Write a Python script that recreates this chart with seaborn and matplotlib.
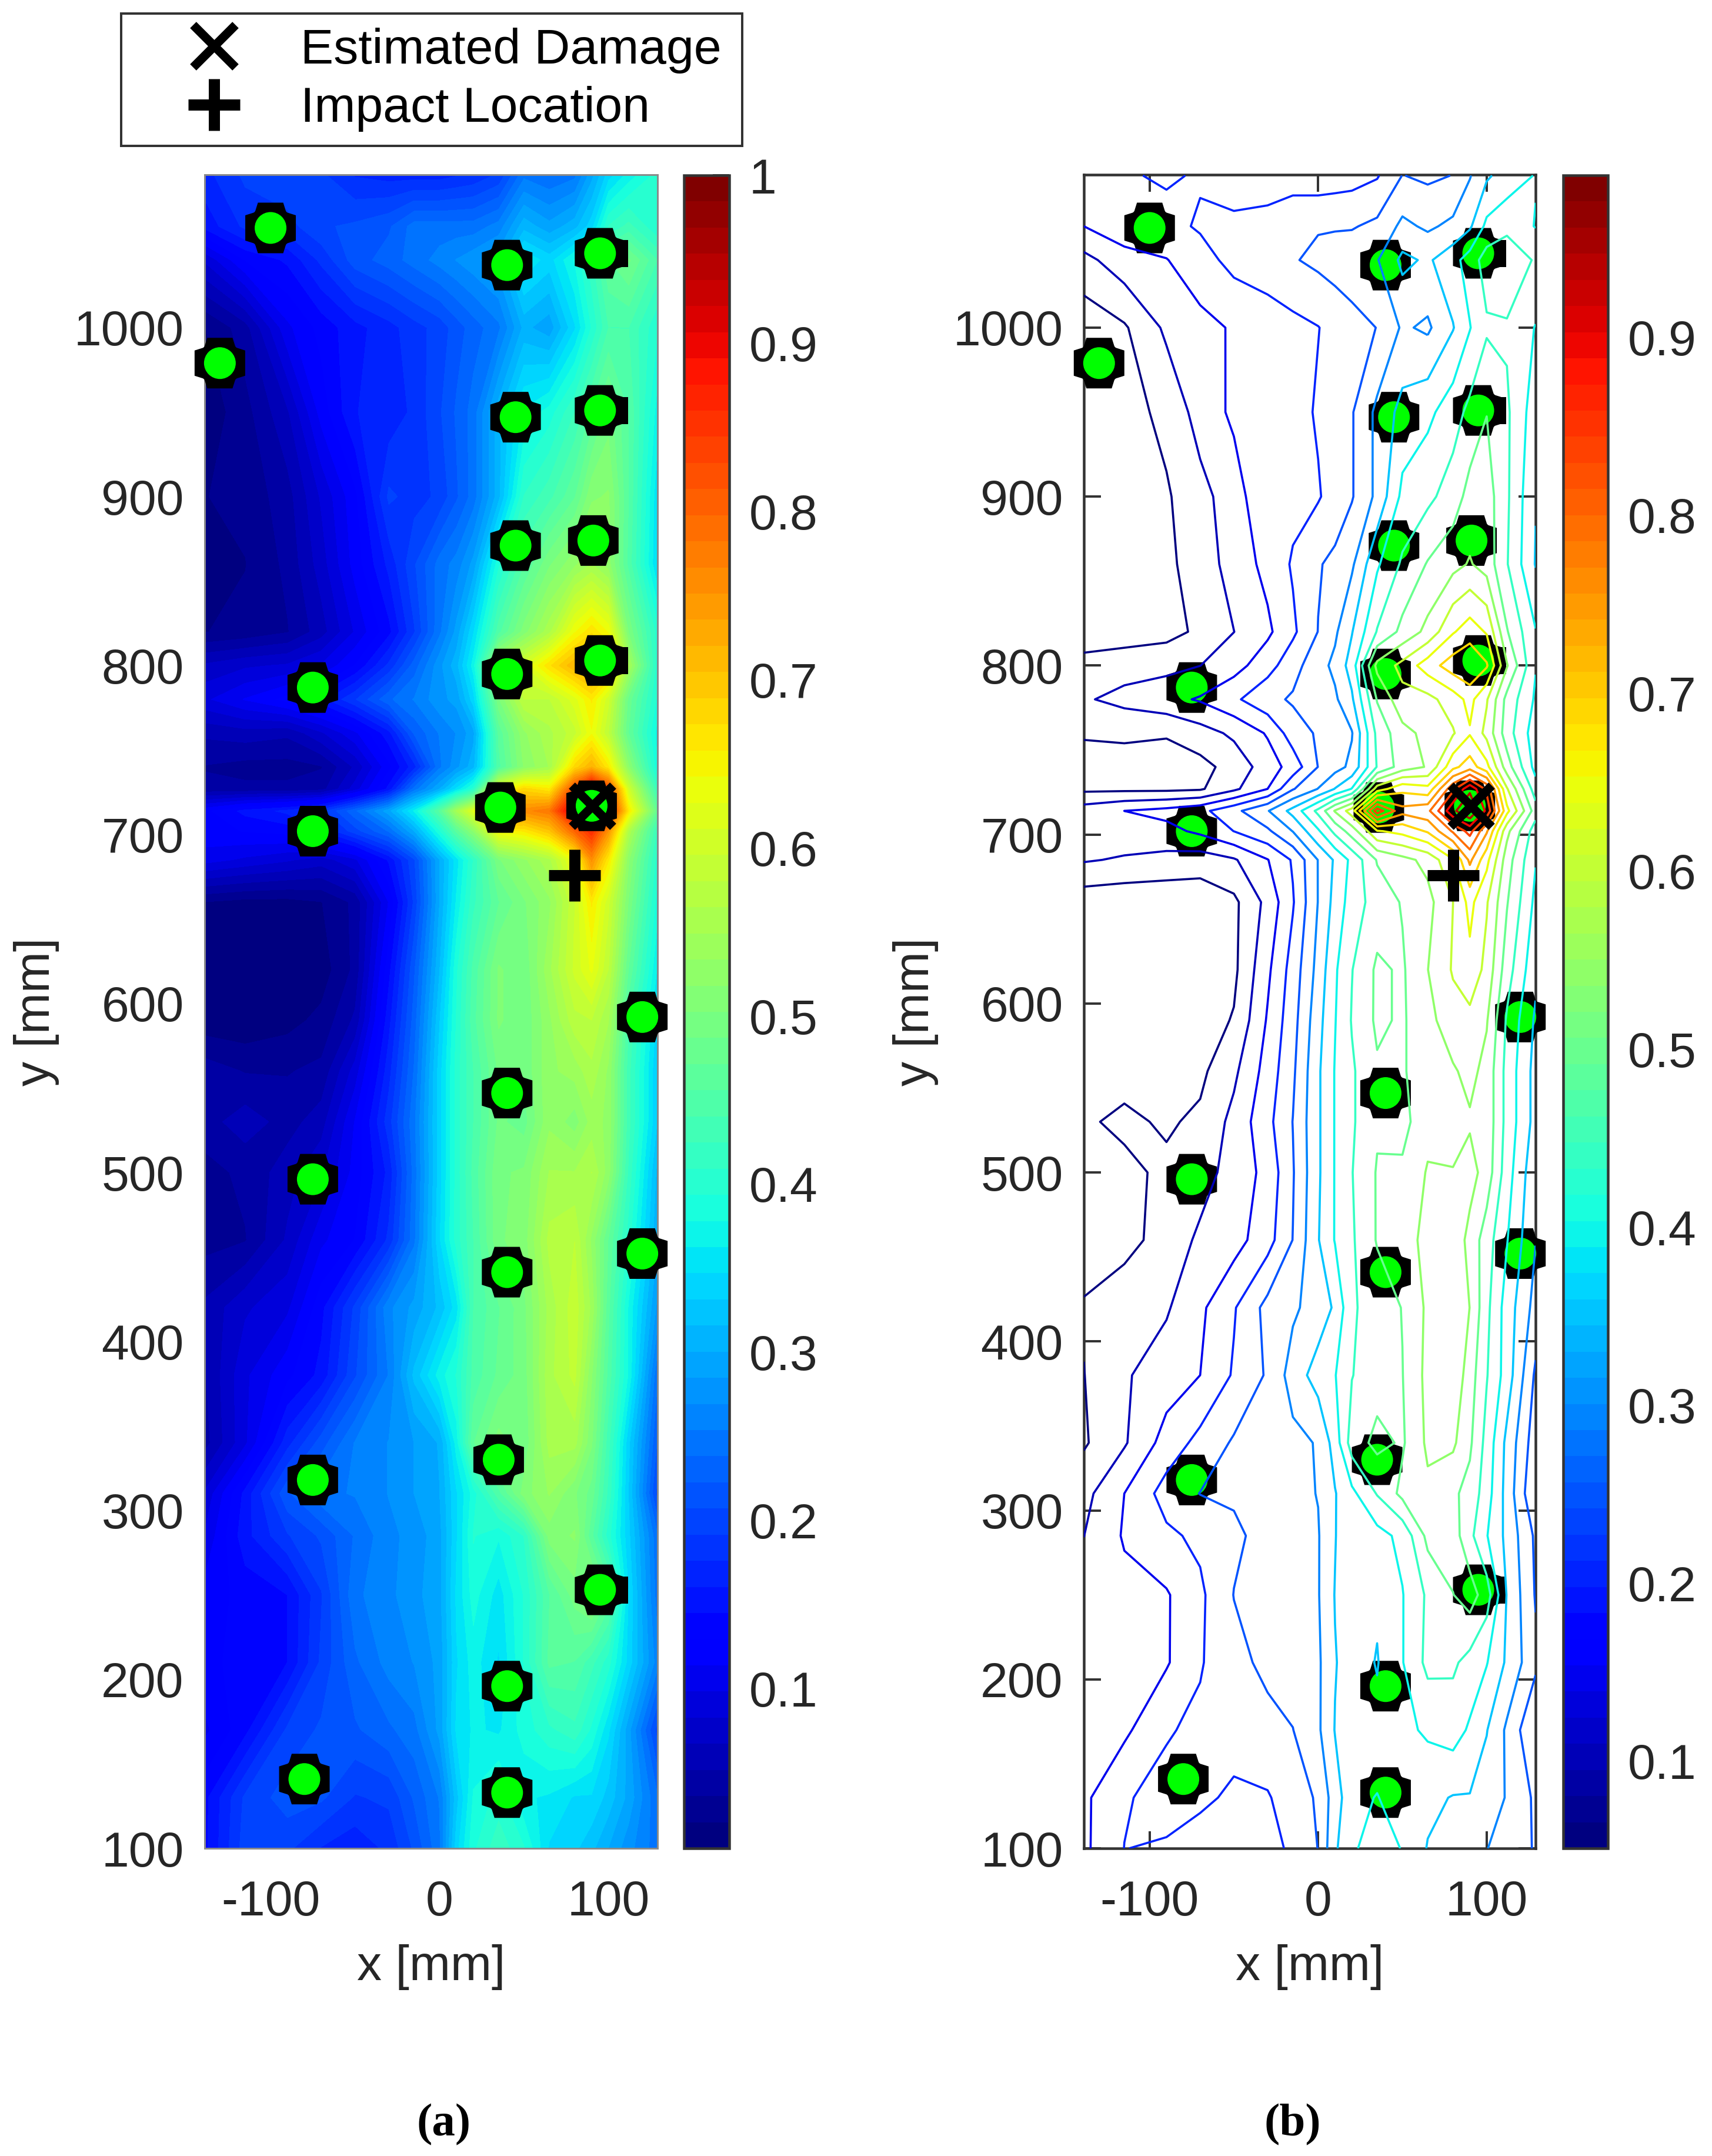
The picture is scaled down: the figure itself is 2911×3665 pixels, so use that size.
import numpy as np
import pandas as pd
import seaborn as sns
import matplotlib
matplotlib.use("Agg")
import matplotlib.pyplot as plt
from matplotlib.colors import Normalize
from matplotlib.cm import ScalarMappable
from matplotlib.lines import Line2D

W, H = 2911, 3665
DPI = 300

# damage index, one row per y position
grid_x = [-139, -115, -90, -70, -50, -30, -15, 0, 10, 20, 35, 50, 65, 80, 90, 100, 112, 129]
grid_y = [100, 130, 170, 210, 250, 285, 310, 340, 380, 420, 460, 500, 530, 560, 590, 620, 660,
          685, 702, 714, 727, 740, 760, 780, 800, 820, 860, 900, 950, 1000, 1040, 1060, 1090]
damage = [
    [.14, .20, .195, .175, .165, .18, .21, .25, .34, .39, .42, .395, .345, .335, .32, .30, .275, .245],
    [.14, .195, .215, .21, .19, .195, .225, .255, .325, .38, .40, .365, .36, .345, .345, .325, .295, .24],
    [.11, .14, .195, .21, .22, .235, .248, .29, .35, .365, .36, .385, .405, .42, .39, .35, .29, .20],
    [.125, .135, .145, .195, .235, .26, .27, .29, .345, .37, .345, .395, .46, .455, .43, .40, .34, .26],
    [.12, .135, .145, .19, .25, .265, .28, .295, .35, .385, .355, .395, .455, .495, .52, .47, .345, .245],
    [.10, .155, .19, .21, .24, .265, .275, .295, .345, .395, .38, .41, .51, .52, .46, .40, .335, .24],
    [.085, .15, .22, .25, .255, .27, .285, .30, .345, .385, .45, .51, .535, .505, .48, .42, .33, .20],
    [.045, .095, .17, .215, .255, .27, .285, .302, .37, .47, .51, .49, .555, .555, .505, .43, .335, .22],
    [.05, .095, .125, .15, .205, .255, .32, .37, .395, .445, .475, .495, .56, .585, .52, .45, .375, .24],
    [.055, .08, .095, .14, .195, .265, .29, .32, .355, .44, .47, .498, .555, .59, .545, .46, .375, .28],
    [.03, .035, .07, .11, .13, .18, .25, .345, .40, .44, .50, .51, .57, .58, .53, .47, .40, .30],
    [.03, .04, .06, .08, .12, .165, .245, .34, .40, .445, .50, .505, .55, .55, .565, .525, .42, .31],
    [.045, .06, .045, .06, .115, .185, .25, .34, .40, .44, .49, .48, .53, .51, .54, .53, .43, .33],
    [.045, .035, .035, .04, .09, .17, .24, .34, .40, .44, .49, .49, .53, .54, .56, .53, .43, .33],
    [.01, .008, .015, .025, .055, .155, .23, .33, .395, .45, .505, .49, .53, .575, .58, .55, .44, .34],
    [.012, .008, .008, .012, .04, .14, .22, .315, .39, .445, .505, .49, .545, .60, .63, .58, .47, .36],
    [.02, .015, .015, .02, .04, .115, .195, .30, .365, .42, .47, .50, .53, .595, .66, .60, .50, .385],
    [.105, .095, .085, .075, .095, .148, .205, .30, .355, .41, .50, .53, .56, .64, .755, .66, .52, .40],
    [.125, .13, .135, .16, .20, .24, .30, .39, .46, .52, .64, .66, .70, .80, .86, .75, .56, .42],
    [.125, .15, .165, .185, .235, .295, .365, .46, .55, .62, .87, .76, .78, .93, .99, .88, .66, .47],
    [.04, .04, .04, .045, .09, .15, .245, .30, .35, .40, .62, .68, .66, .83, .93, .83, .60, .42],
    [.035, .03, .03, .035, .07, .125, .17, .25, .28, .31, .45, .52, .55, .68, .72, .66, .52, .38],
    [.055, .06, .055, .08, .11, .155, .225, .255, .27, .295, .46, .53, .56, .59, .64, .58, .47, .37],
    [.095, .115, .135, .155, .19, .235, .255, .28, .29, .34, .50, .58, .58, .62, .66, .60, .48, .39],
    [.07, .08, .085, .10, .13, .18, .23, .28, .31, .37, .56, .61, .67, .72, .74, .70, .55, .40],
    [.02, .025, .035, .06, .10, .14, .19, .25, .29, .345, .45, .51, .56, .64, .67, .64, .50, .40],
    [.015, .02, .04, .075, .12, .165, .205, .245, .26, .29, .39, .455, .50, .53, .55, .525, .45, .345],
    [.02, .025, .045, .085, .125, .195, .185, .195, .22, .245, .31, .41, .435, .47, .515, .52, .455, .35],
    [.01, .03, .065, .12, .16, .165, .18, .205, .225, .245, .31, .365, .385, .425, .46, .495, .455, .37],
    [.02, .045, .11, .135, .155, .17, .185, .198, .215, .23, .25, .305, .29, .345, .395, .44, .44, .395],
    [.085, .13, .148, .18, .215, .23, .245, .26, .27, .28, .295, .36, .34, .38, .42, .47, .49, .44],
    [.15, .18, .185, .205, .21, .22, .245, .245, .245, .245, .26, .31, .29, .31, .34, .41, .43, .395],
    [.17, .195, .205, .195, .175, .17, .17, .17, .175, .18, .195, .25, .24, .25, .295, .34, .37, .40],
]

sensor_x = [-100, 40, 95, -130, 45, 95, 45, 91, -75, 40, 95, -75, 36, 90, 120, 40, -75, 40, 120, -75, 35, 95, 40, -80, 40]
sensor_y = [1059, 1037, 1044, 979, 947, 951, 871, 874, 787, 795, 803, 702, 716, 717, 592, 547, 496, 441, 452, 318, 330, 253, 196, 141, 133]
bump_x = [108, 108, 108, 108]
bump_y = [1044, 951, 803, 253]
damage_x, damage_y = [90.5], [717]
impact_x, impact_y = [80], [676]

x_ticks = [-100, 0, 100]
y_ticks = [100, 200, 300, 400, 500, 600, 700, 800, 900, 1000]
cbar_ticks_a = [.1, .2, .3, .4, .5, .6, .7, .8, .9, 1]
cbar_labels_a = ['0.1', '0.2', '0.3', '0.4', '0.5', '0.6', '0.7', '0.8', '0.9', '1']
cbar_ticks_b = [.1, .2, .3, .4, .5, .6, .7, .8, .9]
cbar_labels_b = ['0.1', '0.2', '0.3', '0.4', '0.5', '0.6', '0.7', '0.8', '0.9']
levels_a = np.linspace(0.005, 1, 65)
levels_b = np.linspace(0.051, 0.991, 20)

sns.set_theme(style='ticks')
plt.rcParams['font.family'] = ['Liberation Sans', 'DejaVu Sans']
plt.rcParams['axes.unicode_minus'] = False
BLACK = '#000000'
DARK = '#333333'
TXT = '#262626'
FS = 20.2


def pt(px):
    return px * 72 / DPI


def rect(x0, x1, y0, y1):
    return [x0 / W, 1 - y1 / H, (x1 - x0) / W, (y1 - y0) / H]


jet = plt.get_cmap('jet', 64)
sensors = pd.DataFrame({'x': sensor_x, 'y': sensor_y})
bumps = pd.DataFrame({'x': bump_x, 'y': bump_y})
plus_shape = [(-.5, -1), (.5, -1), (.62, -.62), (1, -.5), (1, .5), (.62, .62), (.5, 1), (-.5, 1),
              (-.62, .62), (-1, .5), (-1, -.5), (-.62, -.62)]
bar_shape = [(-.45, -1), (.45, -1), (.45, 1), (-.45, 1)]

fig = plt.figure(figsize=(W / DPI, H / DPI), dpi=DPI)
ax_a = fig.add_axes(rect(348, 1118, 297, 3142))
cax_a = fig.add_axes(rect(1163, 1240, 298, 3142))
ax_b = fig.add_axes(rect(1843, 2611, 297, 3142))
cax_b = fig.add_axes(rect(2658, 2734, 298, 3142))

norm_a = Normalize(0.005, 1)
norm_b = Normalize(0.051, 0.991)

ax_a.contourf(grid_x, grid_y, damage, levels=levels_a, cmap=jet, norm=norm_a)
ax_b.contour(grid_x, grid_y, damage, levels=levels_b, cmap=jet, norm=norm_b, linewidths=pt(3.6), zorder=3.5)

for ax in [ax_a, ax_b]:
    sns.scatterplot(data=bumps, x='x', y='y', marker=bar_shape, s=pt(46) ** 2, color=BLACK, edgecolor='none',
                    clip_on=False, legend=False, ax=ax, zorder=3)
    sns.scatterplot(data=sensors, x='x', y='y', marker=plus_shape, s=pt(86) ** 2, color=BLACK, edgecolor='none',
                    clip_on=False, legend=False, ax=ax, zorder=3)
    sns.scatterplot(data=sensors, x='x', y='y', marker='o', s=pt(77) ** 2, color=BLACK, edgecolor='none',
                    clip_on=False, legend=False, ax=ax, zorder=3)
    sns.scatterplot(data=sensors, x='x', y='y', marker='o', s=pt(54) ** 2, color='#00ff00', edgecolor='none',
                    clip_on=False, legend=False, ax=ax, zorder=3)
    sns.scatterplot(x=damage_x, y=damage_y, marker='x', s=pt(70) ** 2, color=BLACK, linewidth=pt(15),
                    clip_on=False, legend=False, ax=ax, zorder=4)
    sns.scatterplot(x=impact_x, y=impact_y, marker='+', s=pt(88) ** 2, color=BLACK, linewidth=pt(19),
                    clip_on=False, legend=False, ax=ax, zorder=4)
    ax.set_xlim(-139, 129)
    ax.set_ylim(100, 1090.5)
    ax.set_xticks(x_ticks)
    ax.set_yticks(y_ticks)
    ax.set_xlabel('x [mm]', fontsize=FS, color=TXT, labelpad=7.7)
    ax.set_ylabel('y [mm]', fontsize=FS, color=TXT, labelpad=6)

ax_a.tick_params(length=0, labelsize=FS, labelcolor=TXT, pad=8.5)
ax_a.tick_params(axis='x', pad=12.7)
for s in ax_a.spines.values():
    s.set_color('#8a8a8a')
    s.set_linewidth(pt(3))

ax_b.tick_params(direction='in', length=pt(29), width=pt(4), color=DARK, top=True, right=True,
                 labelsize=FS, labelcolor=TXT, pad=8.5)
ax_b.tick_params(axis='x', pad=12.7)
for s in ax_b.spines.values():
    s.set_color(DARK)
    s.set_linewidth(pt(4.5))

for cax, norm, ticks, labels in [(cax_a, norm_a, cbar_ticks_a, cbar_labels_a),
                                 (cax_b, norm_b, cbar_ticks_b, cbar_labels_b)]:
    cb = fig.colorbar(ScalarMappable(norm=norm, cmap=jet), cax=cax, ticks=ticks)
    cb.set_ticklabels(labels)
    cb.ax.tick_params(direction='in', length=pt(28), width=pt(4), color=DARK,
                      labelsize=FS, labelcolor=TXT, pad=8)
    cb.outline.set_edgecolor(DARK)
    cb.outline.set_linewidth(pt(4.5))

handles = [
    Line2D([], [], ls='none', marker='x', ms=pt(72), mew=pt(15), color=BLACK),
    Line2D([], [], ls='none', marker='+', ms=pt(88), mew=pt(19), color=BLACK),
]
leg = fig.legend(handles, ['Estimated Damage', 'Impact Location'], loc='lower left',
                 bbox_to_anchor=(206 / W, 1 - 248 / H, 1056 / W, 228 / H), mode='expand', borderaxespad=0,
                 fontsize=FS, labelcolor=BLACK, fancybox=False, framealpha=1, edgecolor=DARK, numpoints=1,
                 borderpad=0.28, handlelength=3.2, handletextpad=0.14, labelspacing=0.26)
leg.get_frame().set_linewidth(pt(4))

fig.text(755 / W, 1 - 3612 / H, '(a)', family='Liberation Serif', weight='bold', fontsize=19,
         ha='center', va='center', color=BLACK)
fig.text(2198 / W, 1 - 3612 / H, '(b)', family='Liberation Serif', weight='bold', fontsize=19,
         ha='center', va='center', color=BLACK)

fig.savefig('out.png', dpi=DPI)
